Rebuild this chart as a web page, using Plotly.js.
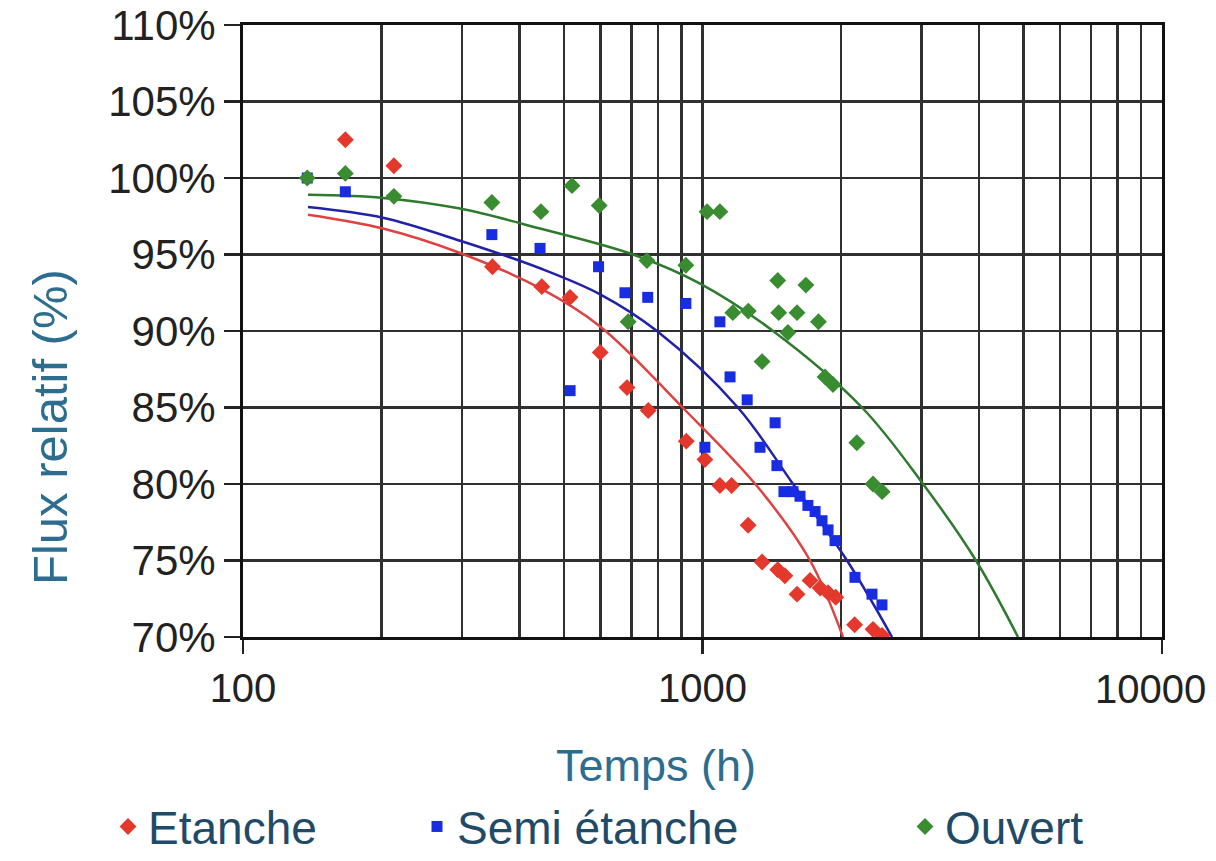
<!DOCTYPE html>
<html>
<head>
<meta charset="utf-8">
<script src="https://cdn.plot.ly/plotly-3.0.1.min.js"></script>
<style>html,body{margin:0;padding:0;background:#fff;}#chart{width:1216px;height:861px;}</style>
</head>
<body>
<div id="chart"></div>
<script>
// ---- Data (hours, relative flux in %) ----
const etancheX = [167, 213, 349, 447, 515, 599, 685, 762, 922, 1012, 1091, 1157, 1257, 1348, 1458, 1511, 1606, 1714, 1803, 1876, 1950, 2143, 2350, 2460];
const etancheY = [102.5, 100.8, 94.2, 92.9, 92.2, 88.6, 86.3, 84.8, 82.8, 81.6, 79.9, 79.9, 77.3, 74.9, 74.4, 74.0, 72.8, 73.7, 73.2, 72.9, 72.6, 70.8, 70.5, 70.1];

const semiX = [138, 167, 348, 443, 515, 594, 678, 760, 920, 1091, 1148, 1251, 1012, 1439, 1334, 1452, 1504, 1574, 1630, 1696, 1758, 1820, 1876, 1943, 2147, 2338, 2458];
const semiY = [100.0, 99.1, 96.3, 95.4, 86.1, 94.2, 92.5, 92.2, 91.8, 90.6, 87.0, 85.5, 82.4, 84.0, 82.4, 81.2, 79.5, 79.5, 79.2, 78.6, 78.2, 77.6, 77.0, 76.3, 73.9, 72.8, 72.1];

const ouvertX = [138, 167, 213, 348, 445, 520, 596, 757, 920, 1023, 1091, 689, 1164, 1258, 1458, 1465, 1606, 1679, 1788, 1534, 1348, 1848, 1923, 2167, 2350, 2460];
const ouvertY = [100.0, 100.3, 98.8, 98.4, 97.8, 99.5, 98.2, 94.6, 94.3, 97.8, 97.8, 90.6, 91.2, 91.3, 93.3, 91.2, 91.2, 93.0, 90.6, 89.9, 88.0, 87.0, 86.5, 82.7, 80.0, 79.5];

// ---- Trend curves ----
const etancheFitX = [138.5, 201.6, 296.8, 442.9, 598.7, 904.8, 1319, 1714, 2022];
const etancheFitY = [97.6, 96.7, 95.1, 92.8, 90.3, 85.0, 79.8, 75.0, 70.0];

const semiFitX = [138.5, 201.6, 296.8, 442.9, 598.7, 796, 1194, 1574, 2063, 2585];
const semiFitY = [98.1, 97.4, 95.9, 94.1, 92.4, 90.0, 85.0, 80.0, 75.0, 70.0];

const ouvertFitX = [138.5, 201.6, 296.8, 442.9, 706, 988, 1424, 2224, 3020, 3937, 4860];
const ouvertFitY = [98.9, 98.7, 98.0, 96.7, 95.0, 93.1, 90.0, 85.0, 80.0, 75.0, 70.0];

const xMajorTicks = [100, 1000, 10000];
const xMajorLabels = ['100', '1000', '10000'];
const xMinorTicks = [200, 300, 400, 500, 600, 700, 800, 900, 2000, 3000, 4000, 5000, 6000, 7000, 8000, 9000];
const yTicks = [70, 75, 80, 85, 90, 95, 100, 105, 110];
const yTickLabels = ['70%', '75%', '80%', '85%', '90%', '95%', '100%', '105%', '110%'];

const seriesNames = ['Etanche', 'Semi étanche', 'Ouvert'];
const xTitle = 'Temps (h)';
const yTitle = 'Flux relatif (%)';

// ---- Styles ----
const RED = 'rgb(228,56,44)', BLUE = 'rgb(24,44,226)', GREEN = 'rgb(58,140,48)';
const RED_L = 'rgb(222,66,66)', BLUE_L = 'rgb(34,34,168)', GREEN_L = 'rgb(46,122,46)';
const FONT = 'Liberation Sans, Arial, sans-serif';
const TITLE_C = '#2d6d8f', LEG_C = '#1f4b68', GRID_C = '#303030', TICK_C = '#222';

const traces = [
  {x: etancheFitX, y: etancheFitY, mode: 'lines', line: {color: RED_L, width: 2.5, shape: 'spline', smoothing: 1}, showlegend: false, hoverinfo: 'skip'},
  {x: semiFitX, y: semiFitY, mode: 'lines', line: {color: BLUE_L, width: 2.5, shape: 'spline', smoothing: 1}, showlegend: false, hoverinfo: 'skip'},
  {x: ouvertFitX, y: ouvertFitY, mode: 'lines', line: {color: GREEN_L, width: 2.5, shape: 'spline', smoothing: 1}, showlegend: false, hoverinfo: 'skip'},
  {x: etancheX, y: etancheY, name: seriesNames[0], legend: 'legend', mode: 'markers', marker: {symbol: 'diamond', size: 13, color: RED}},
  {x: semiX, y: semiY, name: seriesNames[1], legend: 'legend2', mode: 'markers', marker: {symbol: 'square', size: 11, color: BLUE}},
  {x: ouvertX, y: ouvertY, name: seriesNames[2], legend: 'legend3', mode: 'markers', marker: {symbol: 'diamond', size: 13, color: GREEN}}
];

function legendAt(px) {
  return {
    orientation: 'h', xref: 'container', yref: 'container',
    x: px / 1216, xanchor: 'left', y: 0.04, yanchor: 'middle',
    font: {size: 46, color: LEG_C, family: FONT},
    bgcolor: 'rgba(0,0,0,0)', borderwidth: 0
  };
}

// the last x label is placed as an annotation so it stays inside the picture
const shownXLabels = xMajorLabels.map((t, i) => i === xMajorLabels.length - 1 ? '' : t);

const layout = {
  width: 1216, height: 861,
  margin: {l: 243, r: 54, t: 25, b: 224},
  paper_bgcolor: '#fff', plot_bgcolor: '#fff',
  font: {family: FONT, color: TICK_C},
  xaxis: {
    type: 'log', range: [2, 4],
    tickmode: 'array', tickvals: xMajorTicks, ticktext: shownXLabels,
    ticks: 'outside', ticklen: 14, tickwidth: 2.5, tickcolor: TICK_C,
    tickfont: {size: 40, color: TICK_C, family: FONT},
    showgrid: true, gridcolor: GRID_C, gridwidth: 2.5,
    minor: {tickmode: 'array', tickvals: xMinorTicks, showgrid: true, gridcolor: GRID_C, gridwidth: 2.5, ticks: ''},
    showline: true, linecolor: '#111', linewidth: 3, mirror: true,
    zeroline: false
  },
  yaxis: {
    range: [70, 110],
    tickmode: 'array', tickvals: yTicks, ticktext: yTickLabels,
    ticks: 'outside', ticklen: 16, tickwidth: 2.5, tickcolor: TICK_C,
    tickfont: {size: 42, color: TICK_C, family: FONT},
    showgrid: true, gridcolor: GRID_C, gridwidth: 2.5,
    showline: true, linecolor: '#111', linewidth: 3, mirror: true,
    zeroline: false
  },
  annotations: [
    {text: xMajorLabels[xMajorLabels.length - 1], xref: 'x', yref: 'paper',
     x: Math.log10(xMajorTicks[xMajorTicks.length - 1]), y: -(689 - 637) / 612,
     xanchor: 'right', yanchor: 'middle', xshift: 46, showarrow: false,
     font: {size: 40, color: TICK_C, family: FONT}},
    {text: xTitle, xref: 'paper', yref: 'paper', x: (656 - 243) / 919, y: -(765 - 637) / 612,
     xanchor: 'center', yanchor: 'middle', showarrow: false,
     font: {size: 45, color: TITLE_C, family: FONT}},
    {text: yTitle, xref: 'paper', yref: 'paper', x: -(243 - 50) / 919, y: (637 - 427) / 612,
     xanchor: 'center', yanchor: 'middle', showarrow: false, textangle: -90,
     font: {size: 49, color: TITLE_C, family: FONT}}
  ],
  legend: legendAt(108),
  legend2: legendAt(417),
  legend3: legendAt(905)
};

Plotly.newPlot('chart', traces, layout, {displayModeBar: false, staticPlot: true});
</script>
</body>
</html>
